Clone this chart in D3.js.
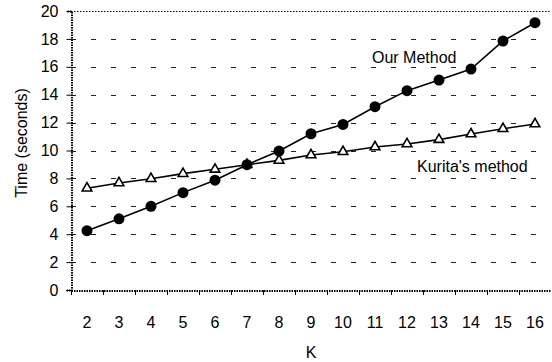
<!DOCTYPE html>
<html>
<head>
<meta charset="utf-8">
<script src="https://cdn.jsdelivr.net/npm/d3@7"></script>
<style>
  html, body { margin: 0; padding: 0; background: #fff; }
  svg { display: block; font-family: "Liberation Sans", Arial, Helvetica, sans-serif; }
</style>
</head>
<body>
<svg id="chart" width="552" height="362"></svg>
<script>
// K values (x categories)
const kValues = [2, 3, 4, 5, 6, 7, 8, 9, 10, 11, 12, 13, 14, 15, 16];
// Running time in seconds for each method
const ourMethod = [4.25, 5.1, 6.0, 6.98, 7.87, 8.98, 9.96, 11.2, 11.87, 13.14, 14.29, 15.05, 15.84, 17.85, 19.16];
const kuritaMethod = [7.3, 7.67, 7.98, 8.34, 8.65, 8.98, 9.29, 9.68, 9.91, 10.25, 10.47, 10.78, 11.18, 11.56, 11.9];
// Y axis ticks
const yTicks = [0, 2, 4, 6, 8, 10, 12, 14, 16, 18, 20];

const svg = d3.select("#chart");
const margin = { left: 71, top: 11, right: 1, bottom: 72 };
const W = 552, H = 362;
const innerRight = W - margin.right;
const innerBottom = H - margin.bottom;

const x = d3.scaleBand().domain(kValues).range([margin.left, innerRight]).padding(0);
const y = d3.scaleLinear().domain([0, 20]).range([innerBottom, margin.top]);
const cx = k => x(k) + x.bandwidth() / 2;

// Dashed horizontal gridlines
svg.append("g").selectAll("line")
  .data(yTicks.filter(t => t > 0 && t < 20))
  .join("line")
  .attr("x1", margin.left).attr("x2", innerRight)
  .attr("y1", d => Math.round(y(d)) + 0.5).attr("y2", d => Math.round(y(d)) + 0.5)
  .attr("stroke", "#222").attr("stroke-width", 1)
  .attr("stroke-dasharray", "5,15");

// Dotted top border
svg.append("line")
  .attr("x1", margin.left).attr("x2", innerRight)
  .attr("y1", Math.round(y(20)) + 0.5).attr("y2", Math.round(y(20)) + 0.5)
  .attr("stroke", "#000").attr("stroke-width", 1)
  .attr("stroke-dasharray", "1.5,1.5");

// Y axis
const yAxis = d3.axisLeft(y).tickValues(yTicks).tickSize(5).tickPadding(8).tickFormat(d3.format("d"));
const gy = svg.append("g").attr("transform", `translate(${margin.left + 0.5},0)`).call(yAxis);
gy.select(".domain").attr("stroke-dasharray", "1.5,1").attr("stroke-width", 2);
gy.selectAll(".tick line").attr("stroke", "#000");
gy.selectAll(".tick text").attr("font-size", 16).attr("fill", "#000")
  .attr("font-family", "Liberation Sans, Arial, sans-serif");

// X axis with ticks on band boundaries
const xAxis = d3.axisBottom(x).tickSize(0).tickPadding(26);
const gx = svg.append("g").attr("transform", `translate(0,${Math.round(innerBottom) + 0.5})`).call(xAxis);
gx.select(".domain").attr("stroke-dasharray", "1.5,1").attr("stroke-width", 2);
gx.selectAll(".tick text").attr("font-size", 16).attr("fill", "#000")
  .attr("font-family", "Liberation Sans, Arial, sans-serif");
svg.append("g").selectAll("line")
  .data(kValues)
  .join("line")
  .attr("x1", d => Math.round(x(d)) + 0.5).attr("x2", d => Math.round(x(d)) + 0.5)
  .attr("y1", innerBottom).attr("y2", innerBottom + 5)
  .attr("stroke", "#000").attr("stroke-width", 1);

// Axis titles
svg.append("text")
  .attr("x", cx(9)).attr("y", 358)
  .attr("text-anchor", "middle").attr("font-size", 16)
  .text("K");
svg.append("text")
  .attr("transform", "translate(27,143) rotate(-90)")
  .attr("text-anchor", "middle").attr("font-size", 16)
  .text("Time (seconds)");

// Series lines
const line = d3.line().x((d, i) => cx(kValues[i])).y(d => y(d));
svg.append("path").datum(kuritaMethod)
  .attr("d", line).attr("fill", "none").attr("stroke", "#000").attr("stroke-width", 1.6);
svg.append("path").datum(ourMethod)
  .attr("d", line).attr("fill", "none").attr("stroke", "#000").attr("stroke-width", 1.6);

// Markers: open triangles for Kurita's method, filled circles for ours
const tri = d3.symbol().type(d3.symbolTriangle).size(40);
svg.append("g").selectAll("path")
  .data(kuritaMethod)
  .join("path")
  .attr("d", tri)
  .attr("transform", (d, i) => `translate(${cx(kValues[i])},${y(d)})`)
  .attr("fill", "#fff").attr("stroke", "#000").attr("stroke-width", 1.6);
svg.append("g").selectAll("circle")
  .data(ourMethod)
  .join("circle")
  .attr("cx", (d, i) => cx(kValues[i])).attr("cy", d => y(d))
  .attr("r", 5.5).attr("fill", "#000");

// Series labels
svg.append("text").attr("x", 372).attr("y", 63).attr("font-size", 16).text("Our Method");
svg.append("text").attr("x", 417).attr("y", 172).attr("font-size", 16).text("Kurita's method");
</script>
</body>
</html>
